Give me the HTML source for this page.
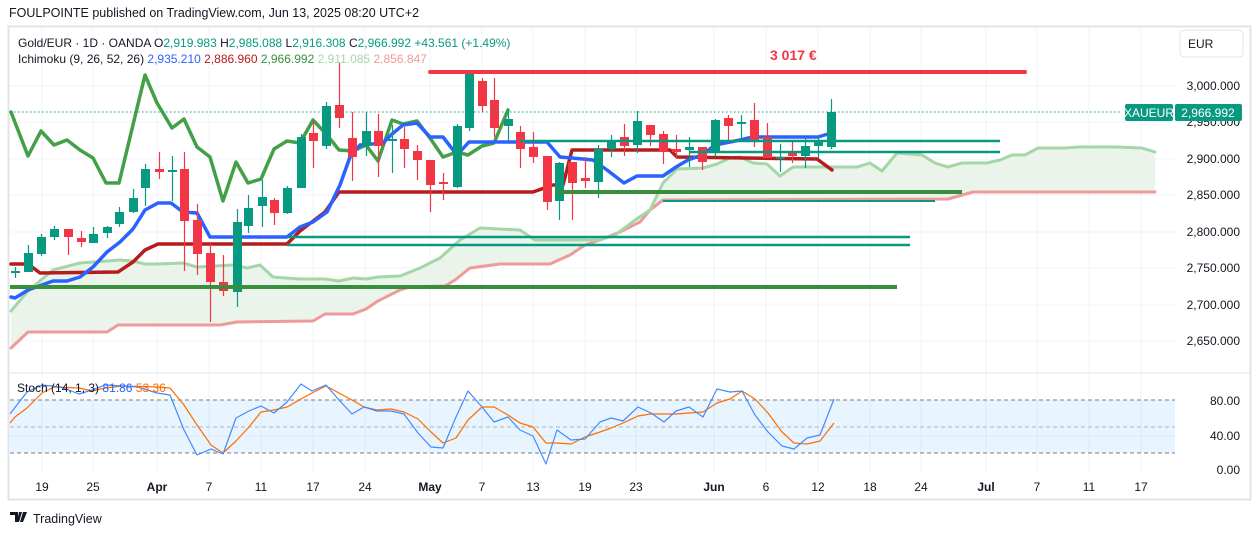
<!DOCTYPE html>
<html><head><meta charset="utf-8"><style>
html,body{margin:0;padding:0;background:#fff;width:1257px;height:536px;overflow:hidden}
svg{display:block;font-family:"Liberation Sans",sans-serif}
</style></head><body>
<svg id="s" width="1257" height="536" viewBox="0 0 1257 536" xmlns="http://www.w3.org/2000/svg">
<rect x="0" y="0" width="1257" height="536" fill="#fff"/>
<text x="9" y="17" font-size="12.5" fill="#131722">FOULPOINTE published on TradingView.com, Jun 13, 2025 08:20 UTC+2</text>
<rect x="8.5" y="26.5" width="1242" height="473" fill="none" stroke="#e0e3eb" stroke-width="2"/>
<g id="grid" stroke="#f0f3fa" stroke-width="1"></g>
<!-- cloud fill -->
<polygon id="cloud" fill="#e8f3e8" fill-opacity="0.9"></polygon>
<g id="lines" fill="none" stroke-linejoin="round" stroke-linecap="round"></g>
<g id="candles"></g>
<!-- drawings -->
<line x1="430" y1="72" x2="1025" y2="72" stroke="#f23645" stroke-width="4" stroke-linecap="round"/>
<text x="770" y="60" font-size="14" font-weight="bold" fill="#f23645">3 017 €</text>
<line x1="520" y1="141" x2="1000" y2="141" stroke="#089981" stroke-width="2.5"/>
<line x1="690" y1="152" x2="1000" y2="152" stroke="#089981" stroke-width="2.5"/>
<line x1="287" y1="237" x2="910" y2="237" stroke="#089981" stroke-width="2.5"/>
<line x1="287" y1="245" x2="910" y2="245" stroke="#089981" stroke-width="2.5"/>
<line x1="555" y1="192" x2="962" y2="192" stroke="#388e3c" stroke-width="4"/>
<line x1="663" y1="201" x2="935" y2="201" stroke="#089981" stroke-width="2"/>
<line x1="10" y1="287" x2="897" y2="287" stroke="#388e3c" stroke-width="4"/>
<line x1="10" y1="112" x2="1122" y2="112" stroke="#089981" stroke-width="1" stroke-dasharray="1.5,2.5"/>
<!-- header legend -->
<text x="18" y="47" font-size="12" fill="#131722">Gold/EUR · 1D · OANDA <tspan fill="#131722">O</tspan><tspan fill="#089981">2,919.983</tspan> <tspan fill="#131722">H</tspan><tspan fill="#089981">2,985.088</tspan> <tspan fill="#131722">L</tspan><tspan fill="#089981">2,916.308</tspan> <tspan fill="#131722">C</tspan><tspan fill="#089981">2,966.992</tspan> <tspan fill="#089981">+43.561 (+1.49%)</tspan></text>
<text x="18" y="63" font-size="12" fill="#131722">Ichimoku (9, 26, 52, 26) <tspan fill="#2962ff">2,935.210</tspan> <tspan fill="#b71c1c">2,886.960</tspan> <tspan fill="#388e3c">2,966.992</tspan> <tspan fill="#a5d6a7">2,911.085</tspan> <tspan fill="#ef9a9a">2,856.847</tspan></text>
<!-- price axis -->
<rect x="1180" y="30" width="63" height="27" rx="4" fill="#fff" stroke="#e0e3eb"/>
<text x="1188" y="48" font-size="12" fill="#131722">EUR</text>
<g font-size="12" fill="#131722" text-anchor="end">
<text x="1240" y="90">3,000.000</text>
<text x="1240" y="126">2,950.000</text>
<text x="1240" y="163">2,900.000</text>
<text x="1240" y="199">2,850.000</text>
<text x="1240" y="236">2,800.000</text>
<text x="1240" y="272">2,750.000</text>
<text x="1240" y="309">2,700.000</text>
<text x="1240" y="345">2,650.000</text>
<text x="1240" y="405">80.00</text>
<text x="1240" y="440">40.00</text>
<text x="1240" y="474">0.00</text>
</g>
<rect x="1125" y="104" width="48" height="17" rx="2" fill="#089981"/>
<text x="1149" y="117" font-size="12" fill="#fff" text-anchor="middle">XAUEUR</text>
<rect x="1175" y="104" width="67" height="17" rx="2" fill="#089981"/>
<text x="1208" y="117" font-size="12" fill="#fff" text-anchor="middle">2,966.992</text>
<!-- stoch pane -->
<line x1="9" y1="373" x2="1250" y2="373" stroke="#e0e3eb" stroke-width="1"/>
<rect x="10" y="400" width="1165" height="53" fill="#2196f3" fill-opacity="0.1"/>
<line x1="10" y1="400" x2="1175" y2="400" stroke="#787b86" stroke-dasharray="4,3"/>
<line x1="10" y1="427" x2="1175" y2="427" stroke="#b2b5be" stroke-dasharray="4,3"/>
<line x1="10" y1="453" x2="1175" y2="453" stroke="#787b86" stroke-dasharray="4,3"/>
<g id="stoch" fill="none" stroke-width="1.2" stroke-linejoin="round"></g>
<text x="17" y="392" font-size="12" fill="#131722">Stoch (14, 1, 3) <tspan fill="#2962ff">81.86</tspan> <tspan fill="#ff6d00">53.36</tspan></text>
<g id="dates" font-size="12" fill="#131722" text-anchor="middle"></g>
<g transform="translate(10,512)"><path d="M0 0h8v10h-3v-7h-5z M9 0h3l-3 10h-2z M13 0h4l-4 10h-3z" fill="#131722"/></g>
<text x="33" y="523" font-size="12.5" fill="#131722">TradingView</text>
</svg>
<script>
var NS="http://www.w3.org/2000/svg";
function el(p,t,a){var e=document.createElementNS(NS,t);for(var k in a)e.setAttribute(k,a[k]);document.getElementById(p).appendChild(e);return e;}
var dates=[[42,"19"],[93,"25"],[157,"Apr"],[209,"7"],[261,"11"],[313,"17"],[365,"24"],[430,"May"],[482,"7"],[533,"13"],[585,"19"],[636,"23"],[714,"Jun"],[766,"6"],[818,"12"],[870,"18"],[921,"24"],[986,"Jul"],[1037,"7"],[1089,"11"],[1141,"17"]];
dates.forEach(function(d){el("grid","line",{x1:d[0],y1:28,x2:d[0],y2:473});var t=el("dates","text",{x:d[0],y:491});t.textContent=d[1];if(isNaN(+d[1]))t.setAttribute("font-weight","bold");});
[86,122,159,195,232,268,305,341,436].forEach(function(y){el("grid","line",{x1:9,y1:y,x2:1175,y2:y});});
var G="#089981",R="#f23645";
var C=[[15,271,273,267,278,G],[28,253,272,245,272,G],[41,237,254,234,256,G],[54,229,237,226,240,G],[68,229,237,229,255,R],[81,238,242,231,247,R],[93,234,243,227,243,G],[107,227,233,226,238,G],[119,212,224,207,227,G],[133,198,212,189,213,G],[145,169,188,164,206,G],[159,169,172,152,179,R],[172,170,172,156,201,G],[184,169,221,152,271,R],[197,220,254,204,275,R],[210,253,282,242,322,R],[223,282,291,255,296,R],[237,222,292,209,307,G],[248,208,226,195,233,G],[262,197,206,180,227,G],[274,200,213,198,225,R],[287,188,213,186,214,G],[301,137,188,134,188,G],[313,133,141,120,168,R],[326,106,146,102,149,G],[339,105,118,63,128,R],[352,138,157,112,181,R],[366,131,146,112,156,G],[378,131,146,114,177,R],[392,139,141,125,173,G],[404,139,149,127,168,R],[417,151,160,145,180,R],[430,160,185,160,212,R],[443,182,184,173,200,R],[457,126,187,124,188,G],[469,73,128,71,131,G],[482,81,106,78,112,R],[494,100,128,78,137,R],[508,119,126,110,142,G],[520,132,149,126,168,R],[533,147,157,132,163,R],[547,156,202,156,210,R],[559,163,201,162,220,G],[572,162,183,162,220,R],[585,178,181,157,188,R],[598,149,182,145,198,G],[611,141,149,135,157,G],[624,137,146,124,156,R],[637,121,145,111,153,G],[650,125,135,125,146,R],[663,134,152,131,164,R],[676,149,152,135,158,R],[689,147,150,137,167,G],[702,147,162,147,170,R],[715,120,153,119,157,G],[728,118,126,115,140,R],[741,122,124,115,140,G],[754,120,140,103,147,R],[767,137,158,123,158,R],[780,157,159,144,172,G],[792,153,156,142,163,R],[805,146,156,138,168,G],[818,142,146,136,158,G],[831,112,147,99,149,G]];
var tenkan="11,297 15,298 28,290 53,281 67,281 80,277 93,267 107,252 120,242 133,229 145,210 158,203 171,203 183,212 197,213 210,237 287,237 300,227 313,222 327,212 340,185 350,157 360,145 383,143 392,134 403,125 417,123 430,137 443,137 457,155 469,142 547,142 560,157 572,158 593,160 607,170 624,183 637,176 663,176 676,167 688,160 702,155 715,145 740,140 753,137 818,137 828,134";
var kijun="11,264 28,264 40,273 118,272 133,262 145,250 158,244 287,244 300,231 325,212 339,192 533,192 553,185 563,185 572,150 670,150 677,157 817,159 832,170";
var chikou="11,112 28,156 41,131 54,145 67,140 80,150 93,158 106,183 119,183 145,75 157,103 172,128 184,119 197,147 210,157 223,201 236,162 248,183 261,179 274,149 287,141 300,143 313,120 327,135 339,150 353,151 366,145 378,161 392,120 403,124 417,121 430,138 443,157 457,152 468,155 482,146 494,143 508,110";
var spanA="11,311 28,291 53,270 80,263 120,260 133,261 145,264 158,264 183,263 197,267 233,265 247,268 260,265 273,277 300,279 325,279 339,281 353,278 366,279 378,277 400,276 420,268 440,258 460,240 480,228 520,230 535,240 600,240 615,235 638,218 650,210 663,183 677,169 703,168 717,164 730,158 740,157 753,163 767,164 780,176 793,167 857,167 870,163 882,171 897,153 922,155 935,163 948,167 962,163 987,163 1000,160 1012,155 1025,155 1038,148 1065,148 1078,147 1117,147 1142,148 1155,152";
var spanB="11,348 28,332 107,332 118,325 220,325 237,322 313,321 325,314 353,314 366,309 378,301 400,290 410,287 445,286 455,280 470,268 485,266 500,264 550,264 570,255 585,245 600,240 620,232 640,222 650,210 663,200 948,199 973,192 1155,192";
function pts(s){return s.split(" ").map(function(p){return p.split(",").map(Number);});}
var a=pts(spanA),b=pts(spanB).reverse();
document.getElementById("cloud").setAttribute("points",a.concat(b).map(function(p){return p.join(",")}).join(" "));
el("lines","polyline",{points:spanB,stroke:"#ef9a9a",   "stroke-width":3});
el("lines","polyline",{points:spanA,stroke:"#a5d6a7","stroke-width":3});
el("lines","polyline",{points:chikou,stroke:"#43a047","stroke-width":3.5});
el("lines","polyline",{points:kijun,stroke:"#b71c1c","stroke-width":3.5});
el("lines","polyline",{points:tenkan,stroke:"#2962ff","stroke-width":3.5});
C.forEach(function(c){
 el("candles","line",{x1:c[0]+.5,y1:c[3],x2:c[0]+.5,y2:c[4],stroke:c[5],"stroke-width":1.2});
 var h=Math.max(c[2]-c[1],1.5);
 el("candles","rect",{x:c[0]-4,y:c[1],width:9,height:h,fill:c[5]});
});
var blue="10,414 27,392 42,385 61,387 79,394 92,390 105,385 123,386 138,387 157,393 170,395 184,430 197,455 211,449 223,454 236,418 249,411 261,406 274,413 287,402 301,384 312,391 326,385 339,400 352,414 364,407 377,411 391,411 404,414 418,433 431,447 443,448 456,417 468,391 482,407 494,422 508,417 520,430 533,436 546,464 557,430 571,440 585,439 600,422 611,418 623,421 638,407 651,413 664,422 676,411 689,407 703,417 717,389 730,392 742,391 755,415 768,432 782,446 794,449 807,438 820,435 834,399";
var orange="10,423 15,417 27,408 42,393 54,387 79,388 92,391 105,388 123,386 157,387 170,388 184,405 197,425 211,445 223,453 236,441 249,427 261,412 274,410 287,407 301,399 312,393 326,386 339,393 352,400 364,407 377,410 391,409 404,412 418,419 431,432 443,443 456,438 468,420 482,407 494,407 508,415 520,423 533,427 546,443 557,443 571,444 585,437 600,432 611,428 623,423 638,416 651,414 664,414 676,414 689,413 703,412 717,403 730,399 742,391 755,399 768,413 782,432 794,443 807,444 820,441 834,423";
el("stoch","polyline",{points:orange,stroke:"#ff6d00"});
el("stoch","polyline",{points:blue,stroke:"#448aff"});
</script>
</body></html>
